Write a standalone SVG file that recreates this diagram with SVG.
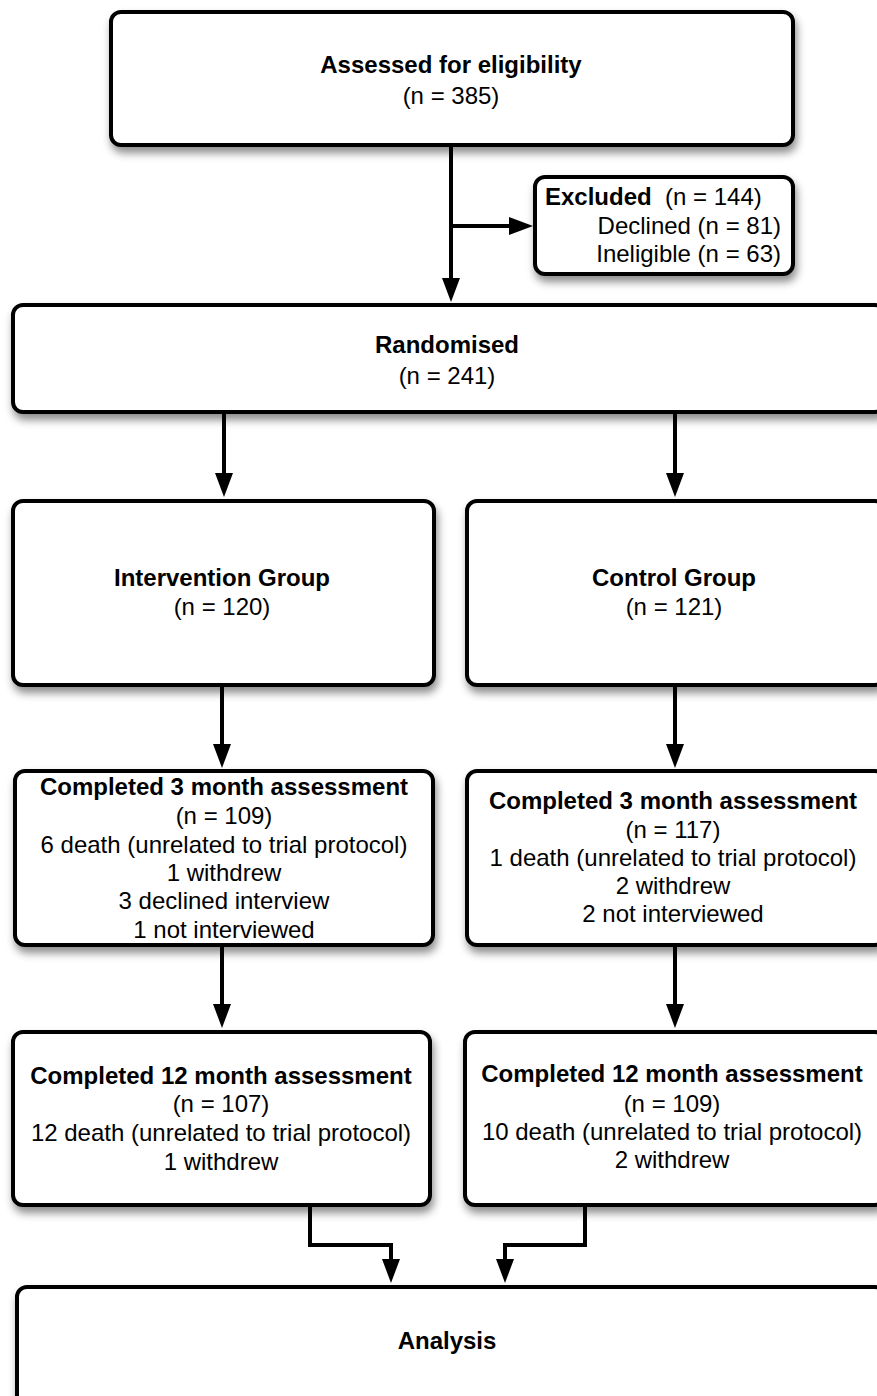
<svg xmlns="http://www.w3.org/2000/svg" width="877" height="1396" viewBox="0 0 877 1396">
<defs>
<filter id="sh" x="-10%" y="-10%" width="120%" height="130%">
<feDropShadow dx="2" dy="6" stdDeviation="4" flood-color="#000" flood-opacity="0.45"/>
</filter>
<marker id="ah" markerUnits="userSpaceOnUse" markerWidth="24" markerHeight="18" refX="2" refY="9" orient="auto">
<path d="M0,0 L24,9 L0,18 z" fill="#000"/>
</marker>
</defs>
<style>
.box{fill:#fff;stroke:#000;stroke-width:4;filter:url(#sh)}
.t{font-family:"Liberation Sans",Arial,Helvetica,sans-serif;font-size:24px;fill:#000;text-anchor:middle}
.b{font-weight:bold}
.c{fill:none;stroke:#000;stroke-width:4;marker-end:url(#ah)}
</style>
<rect width="877" height="1396" fill="#fff"/>
<g id="connectors">
<path class="c" d="M451,145 V280"/>
<path class="c" d="M451,226 H511"/>
<path class="c" d="M224,412 V475"/>
<path class="c" d="M675,412 V475"/>
<path class="c" d="M222,685 V746"/>
<path class="c" d="M675,685 V746"/>
<path class="c" d="M222,945 V1006"/>
<path class="c" d="M675,945 V1006"/>
<path class="c" d="M310,1205 V1245 H391 V1261"/>
<path class="c" d="M585,1205 V1245 H505 V1261"/>
</g>
<g id="assessed">
<rect class="box" x="111" y="12" width="682" height="133" rx="10"/>
<text class="t b" x="451" y="73">Assessed for eligibility</text>
<text class="t" x="451" y="104">(n = 385)</text>
</g>
<g id="excluded">
<rect class="box" x="535" y="177" width="258" height="97" rx="10"/>
<text class="t" x="545" y="205" style="text-anchor:start"><tspan class="b">Excluded</tspan>&#160; (n = 144)</text>
<text class="t" x="781" y="234" style="text-anchor:end">Declined (n = 81)</text>
<text class="t" x="781" y="262" style="text-anchor:end">Ineligible (n = 63)</text>
</g>
<g id="randomised">
<rect class="box" x="13" y="305" width="872" height="107" rx="10"/>
<text class="t b" x="447" y="353">Randomised</text>
<text class="t" x="447" y="384">(n = 241)</text>
</g>
<g id="intervention">
<rect class="box" x="13" y="501" width="421" height="184" rx="10"/>
<text class="t b" x="222" y="586">Intervention Group</text>
<text class="t" x="222" y="615">(n = 120)</text>
</g>
<g id="control">
<rect class="box" x="467" y="501" width="418" height="184" rx="10"/>
<text class="t b" x="674" y="586">Control Group</text>
<text class="t" x="674" y="615">(n = 121)</text>
</g>
<g id="int3">
<rect class="box" x="15" y="771" width="418" height="174" rx="10"/>
<text class="t b" x="224" y="795">Completed 3 month assessment</text>
<text class="t" x="224" y="824">(n = 109)</text>
<text class="t" x="224" y="853">6 death (unrelated to trial protocol)</text>
<text class="t" x="224" y="881">1 withdrew</text>
<text class="t" x="224" y="909">3 declined interview</text>
<text class="t" x="224" y="938">1 not interviewed</text>
</g>
<g id="con3">
<rect class="box" x="467" y="771" width="418" height="174" rx="10"/>
<text class="t b" x="673" y="809">Completed 3 month assessment</text>
<text class="t" x="673" y="838">(n = 117)</text>
<text class="t" x="673" y="866">1 death (unrelated to trial protocol)</text>
<text class="t" x="673" y="894">2 withdrew</text>
<text class="t" x="673" y="922">2 not interviewed</text>
</g>
<g id="int12">
<rect class="box" x="13" y="1032" width="417" height="173" rx="10"/>
<text class="t b" x="221" y="1084">Completed 12 month assessment</text>
<text class="t" x="221" y="1112">(n = 107)</text>
<text class="t" x="221" y="1141">12 death (unrelated to trial protocol)</text>
<text class="t" x="221" y="1170">1 withdrew</text>
</g>
<g id="con12">
<rect class="box" x="465" y="1032" width="420" height="173" rx="10"/>
<text class="t b" x="672" y="1082">Completed 12 month assessment</text>
<text class="t" x="672" y="1112">(n = 109)</text>
<text class="t" x="672" y="1140">10 death (unrelated to trial protocol)</text>
<text class="t" x="672" y="1168">2 withdrew</text>
</g>
<g id="analysis">
<rect class="box" x="17" y="1287" width="868" height="120" rx="10"/>
<text class="t b" x="447" y="1349">Analysis</text>
</g>
</svg>
